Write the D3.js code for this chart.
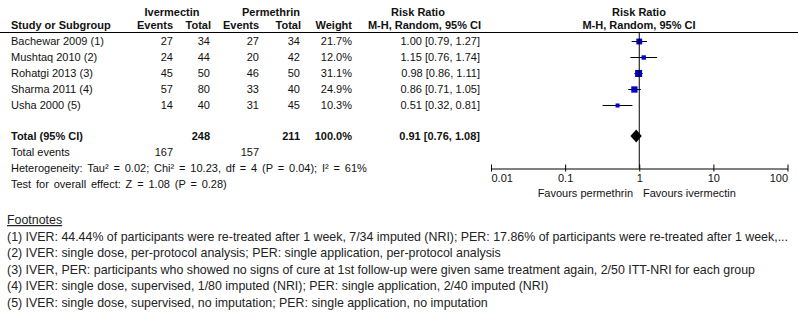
<!DOCTYPE html>
<html>
<head>
<meta charset="utf-8">
<script src="https://cdn.jsdelivr.net/npm/d3@7"></script>
<style>
body { margin: 0; background: #fff; }
svg { display: block; font-family: "Liberation Sans", Arial, sans-serif; font-size: 11px; fill: #111; }
.b { font-weight: bold; }
.stat { word-spacing: 1.8px; }
.fn { font-size: 12.4px; fill: #222; }
</style>
</head>
<body>
<script>
"use strict";
const studies = ["Bachewar 2009 (1)", "Mushtaq 2010 (2)", "Rohatgi 2013 (3)", "Sharma 2011 (4)", "Usha 2000 (5)"];
const ivmEvents = [27, 24, 45, 57, 14];
const ivmTotal = [34, 44, 50, 80, 40];
const perEvents = [27, 20, 46, 33, 31];
const perTotal = [34, 42, 50, 40, 45];
const weights = [21.7, 12.0, 31.1, 24.9, 10.3];
const rr = [1.00, 1.15, 0.98, 0.86, 0.51];
const rrLow = [0.79, 0.76, 0.86, 0.71, 0.32];
const rrHigh = [1.27, 1.74, 1.11, 1.05, 0.81];
const pooled = [0.91, 0.76, 1.08];
const totals = [248, 211];
const totalEvents = [167, 157];
const axisTicks = [0.01, 0.1, 1, 10, 100];
const tickLabels = ["0.01", "0.1", "1", "10", "100"];
const statLines = ["Heterogeneity: Tau\u00b2 = 0.02; Chi\u00b2 = 10.23, df = 4 (P = 0.04); I\u00b2 = 61%",
	"Test for overall effect: Z = 1.08 (P = 0.28)"];
const footnotes = [
	"(1) IVER: 44.44% of participants were re-treated after 1 week, 7/34 imputed (NRI); PER: 17.86% of participants were re-treated after 1 week,...",
	"(2) IVER: single dose, per-protocol analysis; PER: single application, per-protocol analysis",
	"(3) IVER, PER: participants who showed no signs of cure at 1st follow-up were given same treatment again, 2/50 ITT-NRI for each group",
	"(4) IVER: single dose, supervised, 1/80 imputed (NRI); PER: single application, 2/40 imputed (NRI)",
	"(5) IVER: single dose, supervised, no imputation; PER: single application, no imputation"];

const width = 798, height = 320;
const svg = d3.select("body").append("svg").attr("width", width).attr("height", height);

const x = d3.scaleLog().domain([0.01, 100]).range([491, 787.5]);
const rowY = d3.scalePoint().domain(d3.range(studies.length)).range([41, 105]);
const side = d3.scaleSqrt().domain([0, 31.1]).range([0, 7]);
const fmt2 = d3.format(".2f");

function txt(g, s, px, py, anchor, cls) {
	return g.append("text").attr("x", px).attr("y", py).attr("text-anchor", anchor || "start").attr("class", cls || null).text(s);
}

// header
txt(svg, "Ivermectin", 172, 16, "middle", "b");
txt(svg, "Permethrin", 271, 16, "middle", "b");
txt(svg, "Risk Ratio", 418, 16, "middle", "b");
txt(svg, "Risk Ratio", 639, 16, "middle", "b");
txt(svg, "Study or Subgroup", 11, 29, "start", "b");
txt(svg, "Events", 173, 29, "end", "b");
txt(svg, "Total", 211, 29, "end", "b");
txt(svg, "Events", 259, 29, "end", "b");
txt(svg, "Total", 301, 29, "end", "b");
txt(svg, "Weight", 352, 29, "end", "b");
txt(svg, "M-H, Random, 95% CI", 481, 29, "end", "b");
txt(svg, "M-H, Random, 95% CI", 639, 29, "middle", "b");
svg.append("line").attr("x1", 0).attr("x2", width).attr("y1", 32.5).attr("y2", 32.5).attr("stroke", "#000");

// study rows
const rows = svg.selectAll("g.row").data(studies).enter().append("g").attr("class", "row");
rows.each(function(d, i) {
	const g = d3.select(this), yy = rowY(i) + 4;
	txt(g, d, 11, yy);
	txt(g, ivmEvents[i], 173, yy, "end");
	txt(g, ivmTotal[i], 210, yy, "end");
	txt(g, perEvents[i], 259, yy, "end");
	txt(g, perTotal[i], 300, yy, "end");
	txt(g, weights[i].toFixed(1) + "%", 352, yy, "end");
	txt(g, fmt2(rr[i]) + " [" + fmt2(rrLow[i]) + ", " + fmt2(rrHigh[i]) + "]", 480, yy, "end");
});

// null line
svg.append("line").attr("x1", x(1)).attr("x2", x(1)).attr("y1", 32.5).attr("y2", 168.5).attr("stroke", "#000");

// CIs and squares
rows.append("line")
	.attr("x1", (d, i) => x(rrLow[i])).attr("x2", (d, i) => x(rrHigh[i]))
	.attr("y1", (d, i) => rowY(i) + 0.5).attr("y2", (d, i) => rowY(i) + 0.5)
	.attr("stroke", "#000");
rows.append("rect")
	.attr("x", (d, i) => x(rr[i]) - side(weights[i]) / 2)
	.attr("y", (d, i) => rowY(i) + 0.5 - side(weights[i]) / 2)
	.attr("width", (d, i) => side(weights[i]))
	.attr("height", (d, i) => side(weights[i]))
	.attr("fill", "#0000c8");

// total
const ty = 140;
txt(svg, "Total (95% CI)", 11, ty, "start", "b");
txt(svg, totals[0], 210, ty, "end", "b");
txt(svg, totals[1], 300, ty, "end", "b");
txt(svg, "100.0%", 352, ty, "end", "b");
txt(svg, fmt2(pooled[0]) + " [" + fmt2(pooled[1]) + ", " + fmt2(pooled[2]) + "]", 480, ty, "end", "b");
const dy = 136;
svg.append("path")
	.attr("d", "M" + x(pooled[1]) + "," + dy + "L" + x(pooled[0]) + "," + (dy - 6.5) + "L" + x(pooled[2]) + "," + dy + "L" + x(pooled[0]) + "," + (dy + 6.5) + "Z")
	.attr("fill", "#000");

txt(svg, "Total events", 11, 156);
txt(svg, totalEvents[0], 173, 156, "end");
txt(svg, totalEvents[1], 259, 156, "end");
statLines.forEach((s, i) => txt(svg, s, 11, 172 + i * 16, "start", "stat"));

// axis
const axis = d3.axisBottom(x).tickValues(axisTicks).tickFormat((d, i) => tickLabels[i]).tickSizeOuter(0).tickSizeInner(3).tickPadding(3);
const ag = svg.append("g").attr("transform", "translate(0,168.5)").call(axis);
ag.select(".domain").attr("stroke", "#000");
ag.selectAll(".tick line").attr("y1", -4).attr("y2", 3).attr("stroke", "#000");
ag.selectAll(".tick text")
	.attr("fill", "#111")
	.attr("text-anchor", (d, i) => i == 0 ? "start" : i == axisTicks.length - 1 ? "end" : "middle")
	.style("font-size", "11px")
	.style("font-family", "Liberation Sans, Arial, sans-serif");
txt(svg, "Favours permethrin", 633, 197, "end");
txt(svg, "Favours ivermectin", 643, 197, "start");

// footnotes
txt(svg, "Footnotes", 7, 224, "start", "fn").attr("text-decoration", "underline");
svg.selectAll("text.fnl").data(footnotes).enter().append("text")
	.attr("class", "fn fnl")
	.attr("x", 7)
	.attr("y", (d, i) => 241 + i * 16.4)
	.text(d => d);
</script>
</body>
</html>
